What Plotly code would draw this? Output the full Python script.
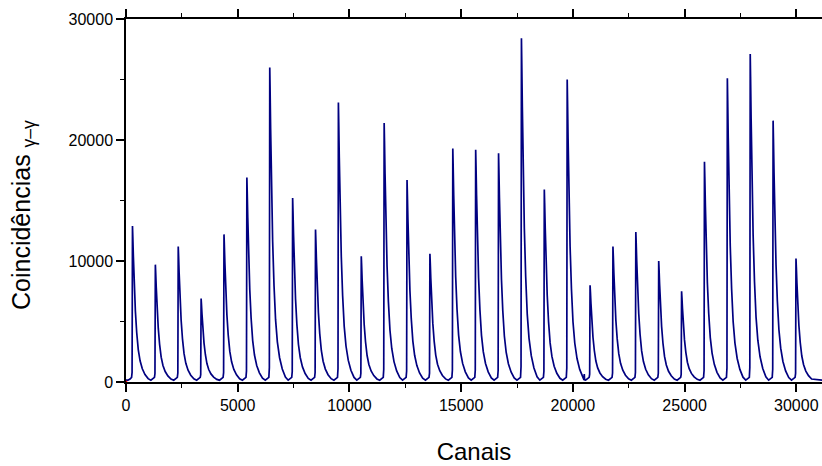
import plotly.graph_objects as go

# ---- data ----
# peak (apex) channels, one peak every ~1024 channels
peak_channels = [290, 1314, 2338, 3362, 4386, 5410, 6434, 7458, 8482, 9506,
                 10530, 11554, 12578, 13602, 14626, 15650, 16674, 17698, 18722, 19746,
                 20770, 21794, 22818, 23842, 24866, 25890, 26914, 27938, 28962, 29986]
# apex heights (counts)
peak_heights = [12900, 9700, 11200, 6900, 12200, 16900, 26000, 15200, 12600, 23100,
                10400, 21400, 16700, 10600, 19300, 19200, 18900, 28400, 15900, 25000,
                8000, 11200, 12400, 10000, 7500, 18200, 25100, 27100, 21600, 10200]
# common peak profile (offset from apex, fraction of apex, baseline counts)
profile_offsets = [-200, -110, -40, -18, 0, 15, 40, 80, 130, 190, 260, 340, 440, 560, 700]
profile_frac = [0.0, 0.0, 0.0, 0.03, 1.0, 0.93, 0.80, 0.62, 0.44, 0.30, 0.19, 0.12, 0.07, 0.035, 0.01]
profile_base = [150, 250, 380, 420, 420, 400, 380, 350, 320, 290, 260, 230, 200, 170, 150]
# a small isolated spike between peaks
spike_channels = [20510]
spike_heights = [650]

# ---- build the spectrum trace from the data ----
pts = []
for c, h in zip(peak_channels, peak_heights):
    for off, fr, b in zip(profile_offsets, profile_frac, profile_base):
        pts.append((c + off, h * fr + b * (1 - fr)))
for c, h in zip(spike_channels, spike_heights):
    pts += [(c - 12, 170), (c, h), (c + 14, 170)]
pts.sort(key=lambda p: p[0])
pts = [(0, 150)] + pts + [(31150, 150)]
xs = [p[0] for p in pts]
ys = [p[1] for p in pts]

fig = go.Figure()
fig.add_trace(go.Scatter(x=xs, y=ys, mode="lines",
                         line=dict(color="#000080", width=1.7),
                         hoverinfo="skip", showlegend=False))
fig.add_trace(go.Scatter(x=[0], y=[0], mode="markers",
                         marker=dict(color="red", size=3),
                         cliponaxis=False, showlegend=False, hoverinfo="skip"))

font_family = "Arial, 'Liberation Sans', sans-serif"
fig.update_layout(
    width=822, height=466,
    margin=dict(l=126, r=0, t=19, b=84),
    paper_bgcolor="white", plot_bgcolor="white",
    font=dict(family=font_family, color="black", size=16),
    xaxis=dict(range=[0, 31150], dtick=5000, tick0=0, tickformat="d",
               showgrid=False, zeroline=False,
               showline=True, linecolor="black", linewidth=1.5, mirror="ticks",
               ticks="outside", ticklen=8, tickwidth=1.5, tickcolor="black",
               minor=dict(dtick=2500, ticks="outside", ticklen=4, tickwidth=1.2, tickcolor="black"),
               tickfont=dict(size=16),
               title=dict(text="Canais", font=dict(size=24), standoff=30)),
    yaxis=dict(range=[0, 30000], dtick=10000, tick0=0, tickformat="d",
               showgrid=False, zeroline=False,
               showline=True, linecolor="black", linewidth=1.5,
               ticks="outside", ticklen=8, tickwidth=1.5, tickcolor="black",
               minor=dict(dtick=5000, ticks="outside", ticklen=4, tickwidth=1.2, tickcolor="black"),
               tickfont=dict(size=16)),
    annotations=[dict(text="Coincidências <sub>γ–γ</sub>", textangle=-90,
                      xref="paper", yref="paper", x=-0.148, y=0.46,
                      xanchor="center", yanchor="middle", showarrow=False,
                      font=dict(size=25, family=font_family, color="black"))],
)

fig.write_html("out.html")
